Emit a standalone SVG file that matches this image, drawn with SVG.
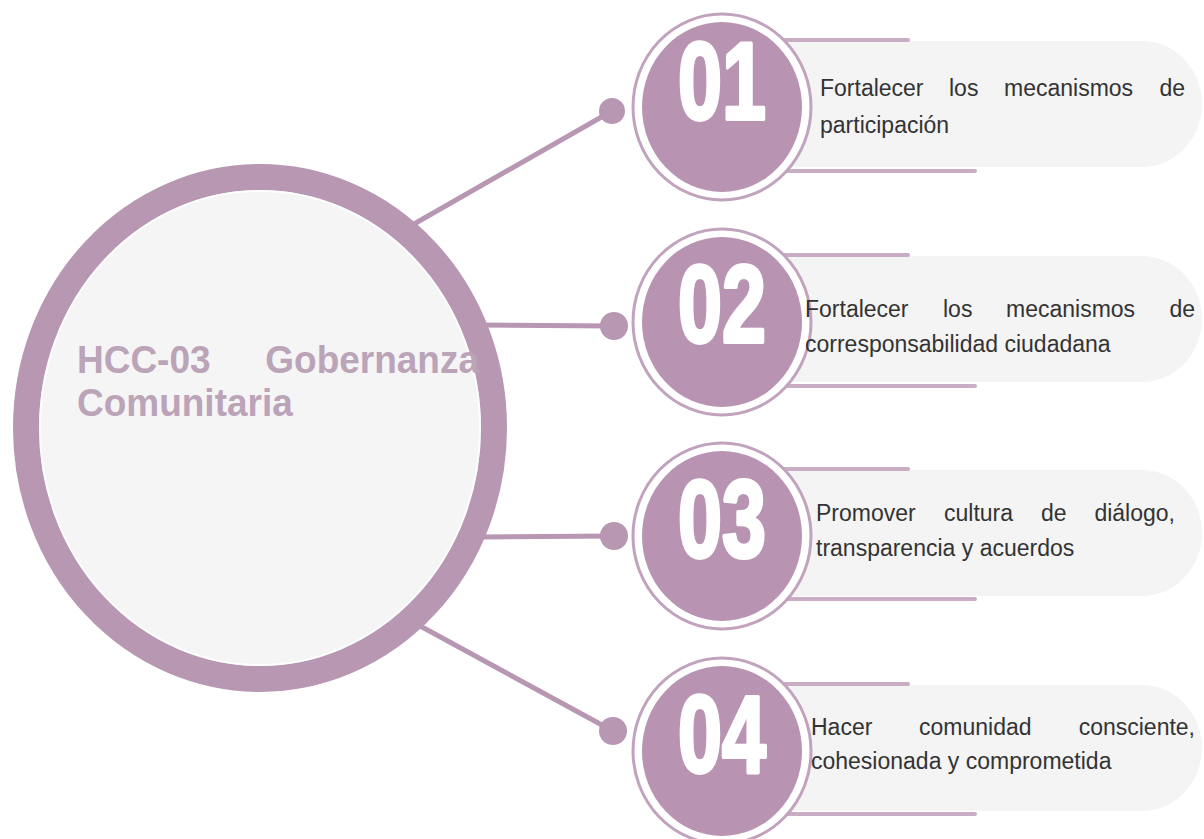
<svg xmlns="http://www.w3.org/2000/svg" width="1204" height="839" viewBox="0 0 1204 839">
<style>
.conn{stroke:#b897b3;stroke-width:5;fill:none;stroke-linecap:round}
.dot{fill:#b897b3}
.ring{fill:#ffffff;stroke:#c2a3be;stroke-width:3}
.disk{fill:#b894b2}
.tab{fill:#f4f4f4}
.tabline{stroke:#c8adc4;stroke-width:4;stroke-linecap:round;fill:none}
.num{font-family:"Liberation Sans",Arial,sans-serif;font-weight:bold;font-size:110px;fill:#ffffff;stroke:#ffffff;stroke-width:4;stroke-linejoin:round;text-anchor:middle}
.body{font-family:"Liberation Sans",Arial,sans-serif;font-size:23px;fill:#333333}
.title{font-family:"Liberation Sans",Arial,sans-serif;font-weight:bold;font-size:37px;fill:#bba3b8}
.end{text-anchor:end}
</style>
<rect width="1204" height="839" fill="#ffffff"/>
<g id="connectors">
<line class="conn" x1="400" y1="232" x2="612" y2="111"/>
<line class="conn" x1="480" y1="325" x2="614" y2="326"/>
<line class="conn" x1="480" y1="537" x2="614" y2="536"/>
<line class="conn" x1="400" y1="615" x2="613" y2="731"/>
<circle class="dot" cx="612" cy="111" r="13"/>
<circle class="dot" cx="614" cy="326" r="14"/>
<circle class="dot" cx="614" cy="536" r="14"/>
<circle class="dot" cx="613" cy="731" r="14"/>
</g>
<g id="main">
<ellipse cx="260" cy="428" rx="234" ry="251" fill="#f5f5f6" stroke="#b897b3" stroke-width="26"/>
<ellipse cx="260" cy="428" rx="220" ry="237" fill="none" stroke="#ffffff" stroke-width="2" opacity="0.8"/>
<text class="title" transform="translate(77,373) scale(1,1.07)">HCC-03</text>
<text class="title end" transform="translate(479,373) scale(1,1.07)">Gobernanza</text>
<text class="title" transform="translate(77,416) scale(1,1.07)">Comunitaria</text>
</g>
<g id="item1">
<path class="tab" d="M760 41H1142A60 63 0 0 1 1142 167H760Z"/>
<line class="tabline" x1="770" y1="40" x2="908" y2="40"/>
<line class="tabline" x1="770" y1="171" x2="975" y2="171"/>
<ellipse class="ring" cx="722" cy="107" rx="89" ry="93"/>
<ellipse class="disk" cx="722" cy="107" rx="80" ry="85"/>
<text class="num" x="722" y="119" textLength="88" lengthAdjust="spacingAndGlyphs">01</text>
<text class="body" x="820" y="96">Fortalecer</text>
<text class="body" x="949" y="96">los</text>
<text class="body" x="1004" y="96">mecanismos</text>
<text class="body end" x="1185" y="96">de</text>
<text class="body" x="820" y="133">participación</text>
</g>
<g id="item2">
<path class="tab" d="M760 256H1142A60 63 0 0 1 1142 382H760Z"/>
<line class="tabline" x1="770" y1="255" x2="908" y2="255"/>
<line class="tabline" x1="770" y1="386" x2="975" y2="386"/>
<ellipse class="ring" cx="722" cy="322" rx="89" ry="93"/>
<ellipse class="disk" cx="722" cy="322" rx="80" ry="85"/>
<text class="num" x="722" y="342" textLength="88" lengthAdjust="spacingAndGlyphs">02</text>
<text class="body" x="805" y="317">Fortalecer</text>
<text class="body" x="943" y="317">los</text>
<text class="body" x="1006" y="317">mecanismos</text>
<text class="body end" x="1195" y="317">de</text>
<text class="body" x="805" y="352">corresponsabilidad ciudadana</text>
</g>
<g id="item3">
<path class="tab" d="M760 470H1142A60 63 0 0 1 1142 596H760Z"/>
<line class="tabline" x1="770" y1="469" x2="908" y2="469"/>
<line class="tabline" x1="770" y1="599" x2="975" y2="599"/>
<ellipse class="ring" cx="722" cy="536" rx="89" ry="93"/>
<ellipse class="disk" cx="722" cy="536" rx="80" ry="85"/>
<text class="num" x="722" y="557" textLength="88" lengthAdjust="spacingAndGlyphs">03</text>
<text class="body" x="816" y="521">Promover</text>
<text class="body" x="944" y="521">cultura</text>
<text class="body" x="1041" y="521">de</text>
<text class="body end" x="1175" y="521">diálogo,</text>
<text class="body" x="816" y="556">transparencia y acuerdos</text>
</g>
<g id="item4">
<path class="tab" d="M760 685H1142A60 63 0 0 1 1142 811H760Z"/>
<line class="tabline" x1="770" y1="684" x2="908" y2="684"/>
<line class="tabline" x1="770" y1="814" x2="975" y2="814"/>
<ellipse class="ring" cx="722" cy="751" rx="89" ry="93"/>
<ellipse class="disk" cx="722" cy="751" rx="80" ry="85"/>
<text class="num" x="722" y="772" textLength="88" lengthAdjust="spacingAndGlyphs">04</text>
<text class="body" x="811" y="735">Hacer</text>
<text class="body" x="919" y="735">comunidad</text>
<text class="body end" x="1195" y="735">consciente,</text>
<text class="body" x="811" y="769">cohesionada y comprometida</text>
</g>
</svg>
